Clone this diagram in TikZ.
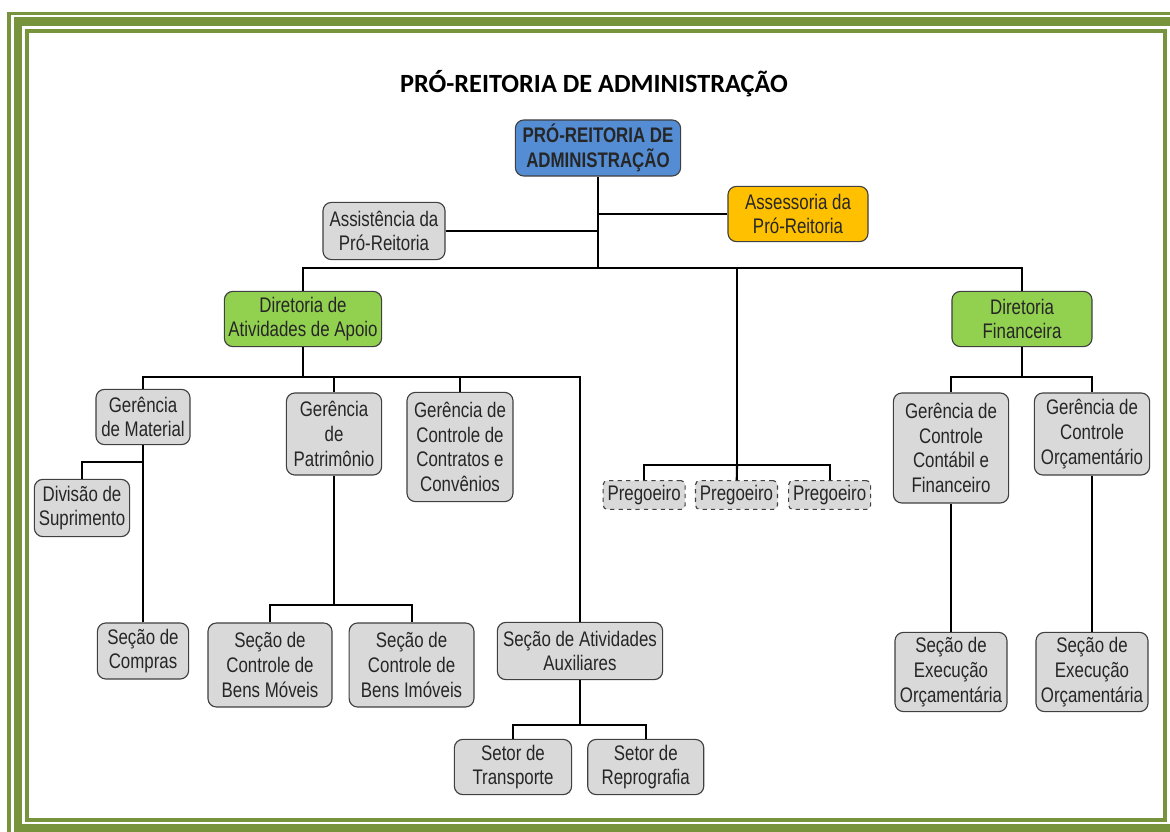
\documentclass[tikz,border=0pt]{standalone}
\usepackage{fontspec}
\newfontfamily\boxfont[FakeStretch=0.8]{Liberation Sans}
\newfontfamily\titlefont{Carlito}
\usetikzlibrary{positioning, calc}

\definecolor{framegreen}{HTML}{77933C}
\definecolor{boxline}{HTML}{404040}
\definecolor{boxgray}{HTML}{D9D9D9}
\definecolor{problue}{HTML}{548DD4}
\definecolor{assorange}{HTML}{FFC000}
\definecolor{dirgreen}{HTML}{92D050}

\begin{document}
\begin{tikzpicture}[x=0.025cm, y=-0.025cm,
    every node/.style={text=black!85},
    box/.style={rectangle, draw=boxline, line width=0.8pt, rounded corners=6pt, align=center, inner sep=2pt,
        font=\boxfont\fontsize{15}{17.5}\selectfont, fill=boxgray},
    pregbox/.style={box, dashed, rounded corners=3pt, minimum width=2.05cm, minimum height=0.72cm},
    line/.style={draw, black, line width=1.5pt},
    frame/.style={draw=framegreen}]

\useasboundingbox (0,0) rectangle (1170,832);
\clip (0,0) rectangle (1170,832);

% Frame
\draw[frame, line width=2.8pt] (9,13.5) rectangle (1200,860);
\draw[frame, line width=5.7pt] (18,21.5) rectangle (1190,828.5);
\draw[frame, line width=2.8pt] (27,31) rectangle (1165,820);

% Title
\node[font=\titlefont\bfseries\fontsize{18.7}{22}\selectfont, text=black] (title) at (594,84) {PRÓ-REITORIA DE ADMINISTRAÇÃO};

% Top level
\node[box, fill=problue, font=\boxfont\bfseries\fontsize{15}{17.5}\selectfont, minimum width=4.13cm, minimum height=1.4cm] (proad) at (598,148) {PRÓ-REITORIA DE\\ADMINISTRAÇÃO};
\node[box, fill=assorange, minimum width=3.5cm, minimum height=1.38cm] (assess) at (798,214) {Assessoria da\\Pró-Reitoria};
\node[box, minimum width=3.05cm, minimum height=1.43cm] (assist) at (384,231) {Assistência da\\Pró-Reitoria};

% Diretorias
\node[box, fill=dirgreen, minimum width=3.93cm, minimum height=1.38cm] (dirapoio) at (303,319) {Diretoria de\\Atividades de Apoio};
\node[box, fill=dirgreen, minimum width=3.5cm, minimum height=1.38cm] (dirfin) at (1022,319) {Diretoria\\Financeira};

% Atividades de Apoio
\node[box, minimum width=2.35cm, minimum height=1.38cm] (germat) at (143,417) {Gerência\\de Material};
\node[box, minimum width=2.38cm, minimum height=1.43cm] (divsup) at (82,508) {Divisão de\\Suprimento};
\node[box, minimum width=2.28cm, minimum height=1.4cm] (seccomp) at (143,651) {Seção de\\Compras};
\node[box, minimum width=2.38cm, minimum height=2.05cm] (gerpat) at (334,434) {Gerência\\de\\Patrimônio};
\node[box, minimum width=2.65cm, minimum height=2.73cm] (gercont) at (460,447) {Gerência de\\Controle de\\Contratos e\\Convênios};
\node[box, minimum width=3.1cm, minimum height=2.1cm] (secmov) at (270,665) {Seção de\\Controle de\\Bens Móveis};
\node[box, minimum width=3.12cm, minimum height=2.1cm, right=0.4cm of secmov] (secimov) {Seção de\\Controle de\\Bens Imóveis};
\node[box, minimum width=4.13cm, minimum height=1.43cm] (secaux) at (580,651) {Seção de Atividades\\Auxiliares};
\node[box, minimum width=2.93cm, minimum height=1.38cm] (settrans) at (513,767) {Setor de\\Transporte};
\node[box, minimum width=2.9cm, minimum height=1.38cm, right=0.375cm of settrans] (setrepro) {Setor de\\Reprografia};

% Pregoeiros
\node[pregbox] (preg2) at (736.5,495) {Pregoeiro};
\node[pregbox, left=0.23cm of preg2] (preg1) {Pregoeiro};
\node[pregbox, right=0.25cm of preg2] (preg3) {Pregoeiro};

% Financeira
\node[box, minimum width=2.88cm, minimum height=2.75cm] (gerccf) at (951,448) {Gerência de\\Controle\\Contábil e\\Financeiro};
\node[box, minimum width=2.88cm, minimum height=2.05cm] (gerorc) at (1092,434) {Gerência de\\Controle\\Orçamentário};
\node[box, minimum width=2.8cm, minimum height=1.98cm] (secexec1) at (951,672) {Seção de\\Execução\\Orçamentária};
\node[box, minimum width=2.8cm, minimum height=1.98cm] (secexec2) at (1092,672) {Seção de\\Execução\\Orçamentária};

% Bus points
\coordinate (topbus) at (598,268);
\coordinate (apoiobus) at (303,377);
\coordinate (finbus) at (1022,377);
\coordinate (matbus) at (143,462);
\coordinate (patbus) at (334,605);
\coordinate (auxbus) at (580,725);
\coordinate (pregbus) at (737,465);

% Paths
\draw [line] (proad) -- (topbus);
\draw [line] (assist.east) -- (assist.east -| topbus);
\draw [line] (assess.west) -- (assess.west -| topbus);
\draw [line] (dirapoio) |- (topbus) -| (dirfin);
\draw [line] (pregbus |- topbus) -- (pregbus);
\draw [line] (preg1) |- (pregbus) -| (preg3);
\draw [line] (pregbus) -- (preg2);
\draw [line] (dirapoio) -- (apoiobus);
\draw [line] (germat) |- (apoiobus) -| (secaux);
\draw [line] (gerpat.north) -- (gerpat.north |- apoiobus);
\draw [line] (gercont.north) -- (gercont.north |- apoiobus);
\draw [line] (germat) -- (seccomp);
\draw [line] (divsup) |- (matbus);
\draw [line] (gerpat) -- (patbus);
\draw [line] (secmov) |- (patbus) -| (secimov);
\draw [line] (secaux) -- (auxbus);
\draw [line] (settrans) |- (auxbus) -| (setrepro);
\draw [line] (dirfin) -- (finbus);
\draw [line] (gerccf) |- (finbus) -| (gerorc);
\draw [line] (gerccf) -- (secexec1);
\draw [line] (gerorc) -- (secexec2);

\end{tikzpicture}
\end{document}
